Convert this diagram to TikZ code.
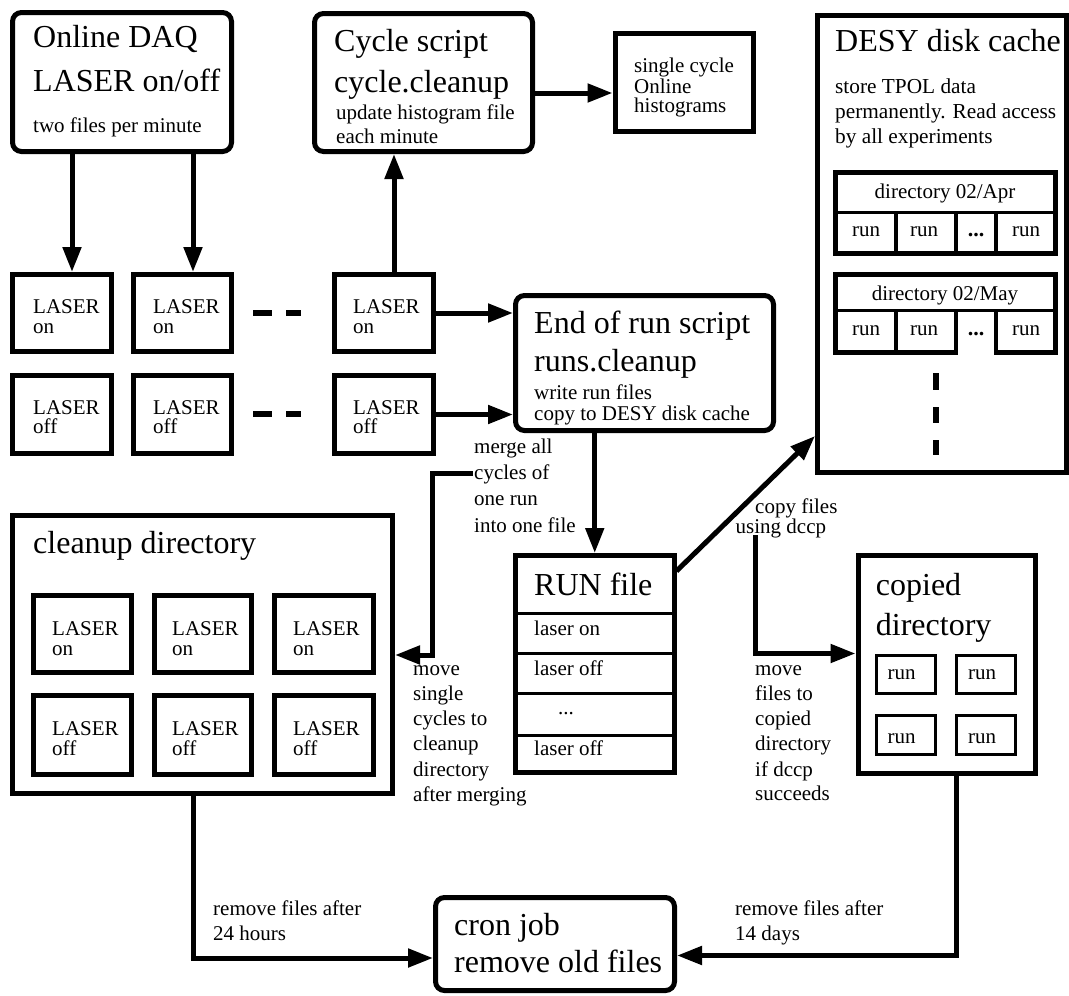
\documentclass[tikz,border=0pt]{standalone}
\usepackage{fontspec}
\setmainfont{Liberation Serif}
\usetikzlibrary{arrows.meta,fit,calc}
\begin{document}
\begin{tikzpicture}[x=1pt,y=-1pt,
  box/.style={draw,line width=5pt,inner sep=0pt,fill=white},
  rbox/.style={box,rounded corners=9pt},
  tbox/.style={draw,line width=3pt,inner sep=0pt},
  arr/.style={line width=5pt,-{Triangle[length=25pt,width=18pt]}},
  divl/.style={line width=3pt},
  cell/.style={line width=4pt},
  dsh/.style={line width=6.5pt},
  big/.style={anchor=base west,inner sep=0pt,font=\fontsize{32}{36}\selectfont},
  sm/.style={anchor=base west,inner sep=0pt,font=\fontsize{21}{24}\selectfont},
  smc/.style={anchor=base,inner sep=0pt,font=\fontsize{21}{24}\selectfont},
  dots/.style={anchor=base,inner sep=0pt,font=\fontsize{22}{24}\selectfont\bfseries},
  desc/.style={anchor=base west,inner sep=0pt,font=\fontsize{21.3}{25}\selectfont},
]
\useasboundingbox (0,0) rectangle (1069,996);
\fill[white] (0,0) rectangle (1069,996);

% ---------- Online DAQ ----------
\node[rbox,fit={(12.5,12.5) (231.5,151.5)}] (daq) {};
\node[big] (tdaq1) at (33,47.7) {Online DAQ};
\node[big] (tdaq2) at (33,91.7) {LASER on/off};
\node[sm] (tdaq3) at (33,132.7) {two files per minute};

% ---------- Cycle script ----------
\node[rbox,fit={(314.5,13.5) (532.5,151.5)}] (cyc) {};
\node[big] (tcyc1) at (334,51) {Cycle script};
\node[big] (tcyc2) at (334,92) {cycle.cleanup};
\node[sm] (tcyc3) at (336,119.5) {update histogram file};
\node[sm] (tcyc4) at (336,143.5) {each minute};

% ---------- single cycle ----------
\node[box,fit={(615,33.5) (753.5,131.5)}] (single) {};
\node[sm] (ts1) at (634,72.7) {single cycle};
\node[sm] (ts2) at (634,93) {Online};
\node[sm] (ts3) at (634,112.7) {histograms};

% ---------- DESY disk cache ----------
\node[box,fit={(817.5,15.5) (1066.5,472.5)}] (desy) {};
\node[big] (td1) at (835,51.7) {DESY disk cache};
\node[desc] (td2) at (835,93.3) {store TPOL data};
\node[desc] (td3) at (835,118.3) {permanently. Read access};
\node[desc] (td4) at (835,143.3) {by all experiments};

% directory 02/Apr
\node[box,fit={(835.5,172.5) (1055.5,253.5)}] (apr) {};
\draw[divl] (835.5,212) -- (1055.5,212);
\draw[cell] (896,212) -- (896,253.5) (956,212) -- (956,253.5) (996,212) -- (996,253.5);
\node[smc] (ta0) at (945,198) {directory 02/Apr};
\node[smc] (ta1) at (866,236.7) {run};
\node[smc] (ta2) at (924,236.7) {run};
\node[dots] (ta3) at (976,236.7) {...};
\node[smc] (ta4) at (1026,236.7) {run};

% directory 02/May
\node[box,fit={(835.5,274) (1055.5,352.5)}] (may) {};
\draw[divl] (835.5,310) -- (1055.5,310);
\draw[cell] (896,310) -- (896,352.5) (956,310) -- (956,351) (996,310) -- (996,351);
\fill[white] (958,349.5) rectangle (994,356);
\node[smc] (tm0) at (945,300) {directory 02/May};
\node[smc] (tm1) at (866,335) {run};
\node[smc] (tm2) at (924,335) {run};
\node[dots] (tm3) at (976,335) {...};
\node[smc] (tm4) at (1026,335) {run};

\draw[dsh] (936,373) -- (936,390);
\draw[dsh] (936,407) -- (936,423);
\draw[dsh] (936,440) -- (936,455);

% ---------- LASER files ----------
\node[box,fit={(12.5,274.5) (111.5,351.5)}] (on1) {};
\node[box,fit={(133.5,274.5) (231.5,351.5)}] (on2) {};
\node[box,fit={(334.5,274.5) (433,351.5)}] (on3) {};
\node[box,fit={(12.5,375.5) (111.5,453.5)}] (off1) {};
\node[box,fit={(133.5,375.5) (231.5,453.5)}] (off2) {};
\node[box,fit={(334.5,375.5) (433,453.5)}] (off3) {};
\node[sm] (l1a) at (33,313.3) {LASER};  \node[sm] (l1b) at (33,333.3) {on};
\node[sm] (l2a) at (153,313.3) {LASER}; \node[sm] (l2b) at (153,333.3) {on};
\node[sm] (l3a) at (353,313.3) {LASER}; \node[sm] (l3b) at (353,333.3) {on};
\node[sm] (l4a) at (33,414) {LASER};  \node[sm] (l4b) at (33,433.3) {off};
\node[sm] (l5a) at (153,414) {LASER}; \node[sm] (l5b) at (153,433.3) {off};
\node[sm] (l6a) at (353,414) {LASER}; \node[sm] (l6b) at (353,433.3) {off};
\draw[dsh] (253,313) -- (272,313) (286,313) -- (301,313);
\draw[dsh] (253,414) -- (272,414) (286,414) -- (301,414);

% ---------- End of run script ----------
\node[rbox,fit={(515.5,295.5) (773.5,430.5)}] (end) {};
\node[big] (te1) at (534,333) {End of run script};
\node[big] (te2) at (534,371) {runs.cleanup};
\node[sm] (te3) at (534,399) {write run files};
\node[sm] (te4) at (534,420.5) {copy to DESY disk cache};

% ---------- RUN file ----------
\node[box,fit={(515.5,555.5) (674,772.5)}] (run) {};
\draw[divl] (515.5,613.3) -- (674,613.3) (515.5,653.3) -- (674,653.3)
            (515.5,693.3) -- (674,693.3) (515.5,735) -- (674,735);
\node[big] (tr1) at (534,595) {RUN file};
\node[sm] (tr2) at (534,635) {laser on};
\node[sm] (tr3) at (534,675) {laser off};
\node[smc] (tr4) at (566,714) {...};
\node[sm] (tr5) at (534,755) {laser off};

% merge text
\node[sm] (mg1) at (474,453.3) {merge all};
\node[sm] (mg2) at (474,479) {cycles of};
\node[sm] (mg3) at (474,505) {one run};
\node[sm] (mg4) at (474,532.3) {into one file};

% ---------- cleanup directory ----------
\node[box,fit={(12.5,515.5) (392.5,793.5)}] (clean) {};
\node[big] (tc0) at (33,553.3) {cleanup directory};
\node[box,fit={(33.5,595.5) (131.5,672.5)}] (c1) {};
\node[box,fit={(154,595.5) (251.5,672.5)}] (c2) {};
\node[box,fit={(274.5,595.5) (373.5,672.5)}] (c3) {};
\node[box,fit={(33.5,695.5) (131.5,774)}] (c4) {};
\node[box,fit={(154,695.5) (251.5,774)}] (c5) {};
\node[box,fit={(274.5,695.5) (373.5,774)}] (c6) {};
\node[sm] (k1a) at (52,635) {LASER};  \node[sm] (k1b) at (52,655) {on};
\node[sm] (k2a) at (172,635) {LASER}; \node[sm] (k2b) at (172,655) {on};
\node[sm] (k3a) at (293,635) {LASER}; \node[sm] (k3b) at (293,655) {on};
\node[sm] (k4a) at (52,735) {LASER};  \node[sm] (k4b) at (52,755) {off};
\node[sm] (k5a) at (172,735) {LASER}; \node[sm] (k5b) at (172,755) {off};
\node[sm] (k6a) at (293,735) {LASER}; \node[sm] (k6b) at (293,755) {off};

% move text
\node[sm] (mv1) at (413,675) {move};
\node[sm] (mv2) at (413,700) {single};
\node[sm] (mv3) at (413,725) {cycles to};
\node[sm] (mv4) at (413,750) {cleanup};
\node[sm] (mv5) at (413,776) {directory};
\node[sm] (mv6) at (413,801.7) {after merging};

% ---------- copied directory ----------
\node[box,fit={(858,555.8) (1035.1,773.5)}] (copied) {};
\node[big] (tp1) at (875.7,595) {copied};
\node[big] (tp2) at (875.7,635) {directory};
\node[tbox,fit={(876.5,655.8) (935,693.5)}] (r1) {};
\node[tbox,fit={(956.5,655.8) (1015,693.5)}] (r2) {};
\node[tbox,fit={(876.5,715.8) (935,754.2)}] (r3) {};
\node[tbox,fit={(956.5,715.8) (1015,754.2)}] (r4) {};
\node[sm] (tq1) at (887.5,679.3) {run};
\node[sm] (tq2) at (967.8,679.3) {run};
\node[sm] (tq3) at (887.5,743.3) {run};
\node[sm] (tq4) at (967.8,743.3) {run};

\node[sm] (cp1) at (755,513.3) {copy files};
\node[sm] (cp2) at (735.5,533.3) {using dccp};
\node[sm] (cm1) at (755,675) {move};
\node[sm] (cm2) at (755,700) {files to};
\node[sm] (cm3) at (755,725) {copied};
\node[sm] (cm4) at (755,750) {directory};
\node[sm] (cm5) at (755,776) {if dccp};
\node[sm] (cm6) at (755,800.7) {succeeds};

% ---------- cron job ----------
\node[rbox,fit={(435.5,897.5) (674.5,990.5)}] (cron) {};
\node[big] (tj1) at (454,935) {cron job};
\node[big] (tj2) at (454,972) {remove old files};
\node[sm] (rm1) at (213,915) {remove files after};
\node[sm] (rm2) at (213,940) {24 hours};
\node[sm] (rm3) at (735,915) {remove files after};
\node[sm] (rm4) at (735,940) {14 days};

% ---------- connectors ----------
\coordinate (xa) at (72,0);
\coordinate (xb) at (193,0);
\coordinate (xc) at (394,0);
\coordinate (ya) at (0,93);
\draw[arr] (daq.south -| xa) -- (on1.north -| xa);
\draw[arr] (daq.south -| xb) -- (on2.north -| xb);
\draw[arr] (on3.north -| xc) -- (cyc.south -| xc);
\draw[arr] (cyc.east |- ya) -- (single.west |- ya);
\draw[arr] (on3.east) -- (end.west |- on3.east);
\draw[arr] (off3.east) -- (end.west |- off3.east);
\draw[arr] (end.south -| run.north) -- (run.north);
\coordinate (m0) at (473,473.5);
\coordinate (m1) at (432.5,655);
\draw[arr] (m0) -| (m1) -- (clean.east |- m1);
\draw[arr] ($(run.north east)+(0,18)$) -- ($(desy.south west)+(0,-39)$);
\coordinate (p0) at (755,535);
\coordinate (p1) at (755,653.5);
\draw[arr] (p0) |- (copied.west |- p1);
\coordinate (k1) at (193,958);
\draw[arr] (clean.south -| k1) |- (cron.west |- k1);
\coordinate (q1) at (956,955.5);
\draw[arr] (copied.south -| q1) |- (cron.east |- q1);
\end{tikzpicture}
\end{document}
